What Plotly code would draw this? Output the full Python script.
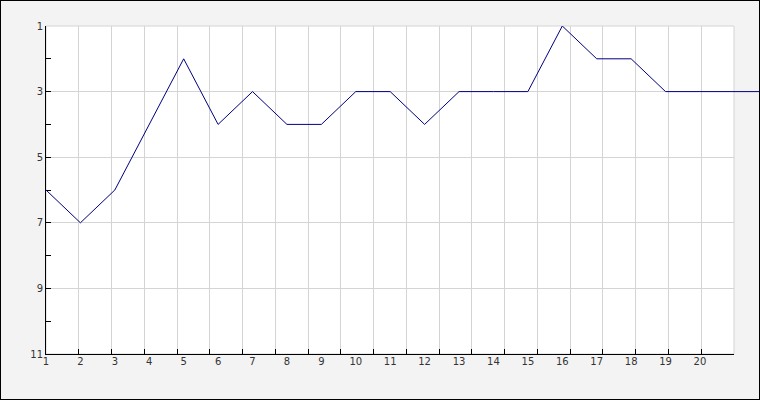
import plotly.graph_objects as go

# Data
rounds = list(range(1, 23))
positions = [6, 7, 6, 4, 2, 4, 3, 4, 4, 3, 3, 4, 3, 3, 3, 1, 2, 2, 3, 3, 3, 3]
x_tick_labels = [str(i) for i in range(1, 21)]
y_tick_values = [1, 3, 5, 7, 9, 11]

W, H = 760, 400
L, R, T, B = 46, 0, 26, 46
plot_w = W - L - R
grid_frac = (734 - L) / plot_w
px_per_round = 34.42
x_max = 1 + plot_w / px_per_round

font = dict(family="DejaVu Sans", size=10, color="#333333")
grid_color = "#d4d4d4"

fig = go.Figure()
# invisible trace to instantiate grid subplot (drawn first, underneath)
fig.add_trace(go.Scatter(
    x=[0], y=[1], mode="markers", marker=dict(opacity=0),
    xaxis="x", yaxis="y", hoverinfo="skip", showlegend=False,
))
fig.add_trace(go.Scatter(
    x=rounds, y=positions, mode="lines",
    line=dict(color="#000080", width=1),
    xaxis="x2", yaxis="y2", hoverinfo="skip", showlegend=False,
))

fig.update_layout(
    width=W, height=H,
    margin=dict(l=L, r=R, t=T, b=B),
    paper_bgcolor="#f3f3f3",
    plot_bgcolor="rgba(0,0,0,0)",
    font=font,
    xaxis=dict(
        domain=[0, grid_frac], range=[0, 21], dtick=1, tick0=0,
        showticklabels=False, showgrid=True, gridcolor=grid_color, gridwidth=1,
        zeroline=False, showline=True, linecolor="#000000", linewidth=1,
        ticks="inside", ticklen=5, tickcolor="#000000", tickwidth=1,
        anchor="y",
    ),
    yaxis=dict(
        domain=[0, 1], range=[11, 1], tickvals=y_tick_values,
        ticktext=[str(v) for v in y_tick_values],
        showgrid=True, gridcolor=grid_color, gridwidth=1,
        zeroline=False, showline=True, linecolor="#000000", linewidth=1,
        ticks="inside", ticklen=5, tickcolor="#000000", tickwidth=1,
        minor=dict(dtick=1, tick0=1, ticks="inside", ticklen=5,
                   tickcolor="#000000", showgrid=False),
        tickfont=font, anchor="x",
    ),
    xaxis2=dict(
        domain=[0, 1], range=[1, x_max],
        tickvals=list(range(1, 21)), ticktext=x_tick_labels,
        showgrid=False, zeroline=False, showline=False, ticks="",
        tickfont=font, anchor="y2",
    ),
    yaxis2=dict(
        domain=[0, 1], range=[11, 1], visible=False, anchor="x2",
    ),
    shapes=[
        dict(type="rect", xref="x domain", yref="y domain",
             x0=0, x1=1, y0=0, y1=1, fillcolor="#ffffff",
             line=dict(color=grid_color, width=1), layer="below"),
        dict(type="rect", xref="paper", yref="paper",
             x0=-L / plot_w, x1=1 + R / plot_w,
             y0=-B / (H - T - B), y1=1 + T / (H - T - B),
             line=dict(color="#000000", width=2), fillcolor="rgba(0,0,0,0)",
             layer="above"),
    ],
)

fig.write_html(
    "out.html",
    config={"displayModeBar": False},
    post_script="document.body.style.margin='0';document.body.style.padding='0';",
)
